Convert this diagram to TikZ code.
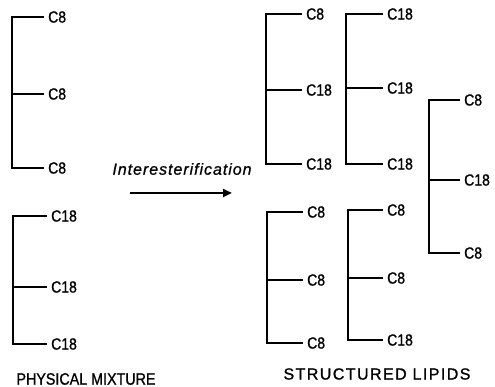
\documentclass[tikz,border=0pt]{standalone}
\usepackage{fontspec}
\setmainfont{Liberation Sans}[FakeBold=1.1]
\newfontface\reactfont{Liberation Sans Italic}[LetterSpace=6,FakeBold=0.8]
\newfontface\widefont{Liberation Sans}[LetterSpace=9,FakeBold=1.2]
\usetikzlibrary{arrows.meta}

% text set slightly taller than wide
\newcommand\tall[1]{\scalebox{1}[1.15]{#1}}

% one triglyceride: glycerol spine with three acyl branches
% #1 name, #2 spine x, #3 branch length, #4-#6 branch y, #7-#9 chain labels
\newcommand\triglyc[9]{%
  \coordinate (#1-t) at (#2,#4);
  \coordinate (#1-m) at (#2,#5);
  \coordinate (#1-b) at (#2,#6);
  \node[chain] (#1-1) at (#2+#3,#4) {\tall{#7}};
  \node[chain] (#1-2) at (#2+#3,#5) {\tall{#8}};
  \node[chain] (#1-3) at (#2+#3,#6) {\tall{#9}};
  \draw[spine] (#1-t) -- (#1-b);
  \draw[branch] (#1-t) -- (#1-1.west);
  \draw[branch] (#1-m) -- (#1-2.west);
  \draw[branch] (#1-b) -- (#1-3.west);
}

\begin{document}
\begin{tikzpicture}[x=1pt,y=-1pt,
  chain/.style={anchor=west,inner xsep=4pt,inner ysep=0pt,font=\fontsize{14}{15}\selectfont},
  spine/.style={line width=1.8pt,line cap=rect},
  branch/.style={line width=1.4pt},
  caption/.style={font=\fontsize{14.3}{16}\selectfont},
  react/.style={line width=2.6pt,-{Triangle[length=9pt,width=8pt]}}]
\useasboundingbox (0,0) rectangle (495,387);

% physical mixture
\triglyc{la}{12}{32}{17}{94}{168}{C8}{C8}{C8}
\triglyc{lb}{13}{34}{216}{287}{344}{C18}{C18}{C18}
\node[caption] (mix) at (86,379) {\tall{PHYSICAL MIXTURE}};

% reaction
\node[font=\fontsize{16}{18}\reactfont] (ie) at (182,169) {Interesterification};
\coordinate (rs) at (130,193);
\coordinate (re) at (232,193);
\draw[react] (rs) -- (re);

% structured lipids
\triglyc{sa}{266}{36}{14}{90}{164}{C8}{C18}{C18}
\triglyc{sb}{346}{37}{14}{88}{164}{C18}{C18}{C18}
\triglyc{sc}{429}{31}{100}{180}{253}{C8}{C18}{C8}
\triglyc{sd}{267}{36}{212}{280}{343}{C8}{C8}{C8}
\triglyc{se}{348}{35}{210}{278}{340}{C8}{C8}{C18}
\node[font=\fontsize{16}{18}\widefont] (sl) at (377,374) {STRUCTURED LIPIDS};
\end{tikzpicture}
\end{document}
